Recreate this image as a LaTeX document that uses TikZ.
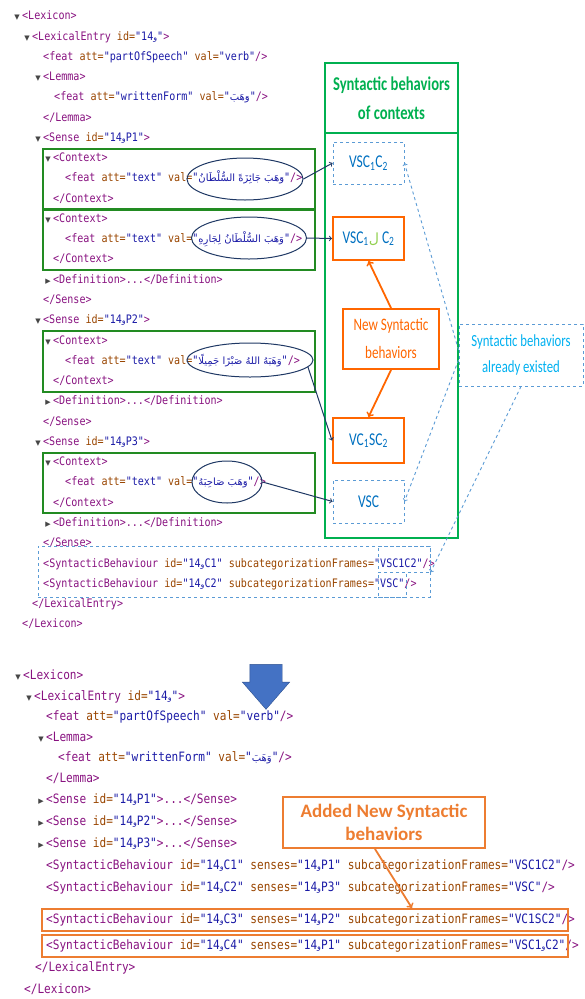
\documentclass[tikz,border=0pt]{standalone}
\usepackage{fontspec}
\setmainfont{Carlito}
\newfontfamily\xmlfont[FakeStretch=0.86]{DejaVu Sans Mono}
\newfontfamily\lblfont[FakeStretch=0.75]{Carlito}
\newfontfamily\arabicfont[Script=Arabic]{DejaVu Sans}
\newfontfamily\symfont{DejaVu Sans}
\TeXXeTstate=1
\usetikzlibrary{shapes, arrows, positioning, fit}

\definecolor{xtagc}{RGB}{136,18,128}
\definecolor{xattc}{RGB}{153,69,0}
\definecolor{xvalc}{RGB}{26,26,166}
\definecolor{trigc}{RGB}{70,70,70}
\definecolor{ctxgreen}{RGB}{34,139,34}
\definecolor{panelgreen}{RGB}{0,176,80}
\definecolor{vscblue}{RGB}{0,112,192}
\definecolor{dashblue}{RGB}{91,155,213}
\definecolor{existblue}{RGB}{0,176,240}
\definecolor{neworange}{RGB}{255,102,0}
\definecolor{addorange}{RGB}{237,125,49}
\definecolor{navy}{RGB}{31,56,100}
\definecolor{lamgreen}{RGB}{146,208,80}
\definecolor{bigblue}{RGB}{68,114,196}
\definecolor{bigblueline}{RGB}{47,82,143}

\newcommand{\xtg}[1]{\textcolor{xtagc}{#1}}
\newcommand{\xat}[1]{\textcolor{xattc}{#1}}
\newcommand{\xvl}[1]{\textcolor{xvalc}{#1}}
\newcommand{\arb}[1]{{\arabicfont\fontsize{10}{10}\selectfont\beginR #1\endR}}
\newcommand{\wid}{{\arabicfont\fontsize{8}{8}\selectfont و}}
\newcommand{\opnd}{\textcolor{trigc}{\symfont\fontsize{7}{7}\selectfont ▼}\hspace{2.5pt}}
\newcommand{\clsd}{\textcolor{trigc}{\symfont\fontsize{7}{7}\selectfont ▶}\hspace{2.5pt}}

\begin{document}
\begin{tikzpicture}[x=1pt, y=-1pt, >=to,
  xml/.style={anchor=west, inner sep=0pt, text height=8pt, text depth=2.5pt, font=\xmlfont\fontsize{11.7}{12}\selectfont},
  xmlb/.style={xml, text height=9pt, font=\xmlfont\fontsize{12.9}{13}\selectfont},
  fold/.style={xshift=-7.9pt},
  ctxbox/.style={draw=ctxgreen, line width=1.1pt, minimum width=272pt},
  ctxell/.style={draw=navy, line width=1pt, ellipse, inner sep=0pt},
  sbbox/.style={draw=vscblue, text=vscblue, inner sep=0pt, minimum width=71pt, font=\lblfont\fontsize{18}{20}\selectfont},
  oldsb/.style={sbbox, draw=dashblue, dashed, line width=0.9pt},
  newsb/.style={sbbox, draw=neworange, line width=2pt},
  dashcon/.style={->, draw=dashblue, dashed, line width=0.9pt},
  ctxcon/.style={->, draw=navy, line width=1pt},
  newcon/.style={->, draw=neworange, line width=1.8pt}]
  \useasboundingbox (0,0) rectangle (585,999);

  % Oberer Lexikon-Eintrag
  \node[xml, fold] (t1) at (22,17) {\opnd\xtg{<Lexicon>}};
  \node[xml, fold] (t2) at (32,37.3) {\opnd\xtg{<LexicalEntry} \xat{id=}\xvl{"14\wid"}\xtg{>}};
  \node[xml] (t3) at (43,57.5) {\xtg{<feat} \xat{att=}\xvl{"partOfSpeech"} \xat{val=}\xvl{"verb"}\xtg{/>}};
  \node[xml, fold] (t4) at (43,77.8) {\opnd\xtg{<Lemma>}};
  \node[xml] (t5) at (54,98.1) {\xtg{<feat} \xat{att=}\xvl{"writtenForm"} \xat{val=}\xvl{"\arb{وَهَبَ}"}\xtg{/>}};
  \node[xml] (t6) at (43,118.4) {\xtg{</Lemma>}};
  \node[xml, fold] (t7) at (43,138.6) {\opnd\xtg{<Sense} \xat{id=}\xvl{"14\wid P1"}\xtg{>}};
  \node[xml, fold] (t8) at (53,158.9) {\opnd\xtg{<Context>}};
  \node[xml] (t9) at (65,179.2) {\xtg{<feat} \xat{att=}\xvl{"text"} \xat{val=}\xvl{"\arb{وَهَبَ جَائِزَةً السُّلْطَانُ}"}\xtg{/>}};
  \node[xml] (t10) at (53,199.4) {\xtg{</Context>}};
  \node[xml, fold] (t11) at (53,219.7) {\opnd\xtg{<Context>}};
  \node[xml] (t12) at (65,240) {\xtg{<feat} \xat{att=}\xvl{"text"} \xat{val=}\xvl{"\arb{وَهَبَ السُّلْطَانُ لِجَارِهِ}"}\xtg{/>}};
  \node[xml] (t13) at (53,260.2) {\xtg{</Context>}};
  \node[xml, fold] (t14) at (53,280.5) {\clsd\xtg{<Definition>...</Definition>}};
  \node[xml] (t15) at (43,300.8) {\xtg{</Sense>}};
  \node[xml, fold] (t16) at (43,321) {\opnd\xtg{<Sense} \xat{id=}\xvl{"14\wid P2"}\xtg{>}};
  \node[xml, fold] (t17) at (53,341.3) {\opnd\xtg{<Context>}};
  \node[xml] (t18) at (65,361.6) {\xtg{<feat} \xat{att=}\xvl{"text"} \xat{val=}\xvl{"\arb{وَهَبَهُ اللهُ صَبْرًا جَمِيلًا}"}\xtg{/>}};
  \node[xml] (t19) at (53,381.9) {\xtg{</Context>}};
  \node[xml, fold] (t20) at (53,402.1) {\clsd\xtg{<Definition>...</Definition>}};
  \node[xml] (t21) at (43,422.4) {\xtg{</Sense>}};
  \node[xml, fold] (t22) at (43,442.7) {\opnd\xtg{<Sense} \xat{id=}\xvl{"14\wid P3"}\xtg{>}};
  \node[xml, fold] (t23) at (53,462.9) {\opnd\xtg{<Context>}};
  \node[xml] (t24) at (65,483.2) {\xtg{<feat} \xat{att=}\xvl{"text"} \xat{val=}\xvl{"\arb{وَهَبَ صَاحِبَهُ}"}\xtg{/>}};
  \node[xml] (t25) at (53,503.5) {\xtg{</Context>}};
  \node[xml, fold] (t26) at (53,523.7) {\clsd\xtg{<Definition>...</Definition>}};
  \node[xml] (t27) at (43,544) {\xtg{</Sense>}};
  \node[xml] (t28) at (43,564.3) {\xtg{<SyntacticBehaviour} \xat{id=}\xvl{"14\wid C1"} \xat{subcategorizationFrames=}\xvl{"VSC1C2"}\xtg{/>}};
  \node[xml] (t29) at (43,584.6) {\xtg{<SyntacticBehaviour} \xat{id=}\xvl{"14\wid C2"} \xat{subcategorizationFrames=}\xvl{"VSC"}\xtg{/>}};
  \node[xml] (t30) at (32,604.8) {\xtg{</LexicalEntry>}};
  \node[xml] (t31) at (22,625.1) {\xtg{</Lexicon>}};

  % Kontexte
  \node[ctxbox, minimum height=60pt] (cx1) at (179,179) {};
  \node[ctxbox, minimum height=60pt] (cx2) at (179,240) {};
  \node[ctxbox, minimum height=61pt] (cx3) at (179,361.5) {};
  \node[ctxbox, minimum height=60pt] (cx4) at (179,483) {};
  \node[ctxell, minimum width=116pt, minimum height=42pt] (e1) at (245,179) {};
  \node[ctxell, minimum width=115pt, minimum height=42pt] (e2) at (249,238) {};
  \node[ctxell, minimum width=126pt, minimum height=34pt] (e3) at (250,360) {};
  \node[ctxell, minimum width=70pt, minimum height=42pt] (e4) at (227,482) {};

  % Syntaktische Verhalten
  \node[draw=panelgreen, line width=2.5pt, minimum width=133pt, minimum height=475pt] (panel) at (391.5,300.5) {};
  \node[draw=panelgreen, line width=2.5pt, minimum width=133pt, minimum height=70pt, anchor=north, text=panelgreen, align=center, font=\lblfont\bfseries\fontsize{19.5}{29}\selectfont] (head) at (panel.north) {Syntactic behaviors\\of contexts};
  \node[oldsb, minimum height=42pt] (vsc1) at (368.5,163) {VSC\textsubscript{1}C\textsubscript{2}};
  \node[newsb, minimum height=43pt] (vsc2) at (368.5,238.5) {VSC\textsubscript{1}{\arabicfont\fontsize{14}{14}\selectfont\color{lamgreen}ل} C\textsubscript{2}};
  \node[draw=neworange, line width=2pt, text=neworange, align=center, minimum width=96pt, minimum height=60pt, font=\lblfont\fontsize{17.5}{28}\selectfont] (newb) at (391,339) {New Syntactic\\behaviors};
  \node[newsb, minimum height=45pt] (vc1) at (368.5,440.5) {VC\textsubscript{1}SC\textsubscript{2}};
  \node[oldsb, minimum height=43pt] (vsc) at (368.5,501.5) {VSC};
  \node[draw=dashblue, dashed, line width=0.9pt, text=existblue, align=center, minimum width=124pt, minimum height=62pt, font=\lblfont\fontsize{17}{26}\selectfont] (exist) at (521,355) {Syntactic behaviors\\already existed};

  % vorhandene Verhalten im Eintrag
  \node[draw=dashblue, dashed, line width=0.9pt, minimum width=392pt, minimum height=51pt] (sbold) at (234,571.5) {};
  \node[draw=dashblue, dashed, line width=0.9pt, minimum width=52pt, minimum height=26pt] (frm1) at (404,559) {};
  \node[draw=dashblue, dashed, line width=0.9pt, minimum width=28pt, minimum height=25pt] (frm2) at (392,584.5) {};

  % Verbindungen
  \draw[ctxcon] (e1.east) -- (vsc1.west);
  \draw[ctxcon] (e2.east) -- (vsc2.west);
  \draw[ctxcon] (e3.-7) -- (vc1.west);
  \draw[ctxcon] (e4.east) -- (vsc.west);
  \draw[newcon] (newb.north) -- (vsc2.south);
  \draw[newcon] (newb.south) -- (vc1.north);
  \draw[dashcon] ([yshift=5pt]exist.west) -- (vsc1.east);
  \draw[dashcon] ([yshift=-5pt]exist.west) -- (vsc.east);
  \draw[dashcon] (exist.south) -- (frm1.south east);

  % Pfeil nach unten
  \node[single arrow, rotate=-90, draw=bigblueline, fill=bigblue, minimum height=45pt, inner xsep=0pt, inner ysep=16pt, single arrow head extend=7.5pt, single arrow tip angle=82] (down) at (266,677.5) {};

  % Unterer Lexikon-Eintrag
  \node[xmlb, fold] (b1) at (23,676) {\opnd\xtg{<Lexicon>}};
  \node[xmlb, fold] (b2) at (34,697) {\opnd\xtg{<LexicalEntry} \xat{id=}\xvl{"14\wid"}\xtg{>}};
  \node[xmlb] (b3) at (46,717) {\xtg{<feat} \xat{att=}\xvl{"partOfSpeech"} \xat{val=}\xvl{"verb"}\xtg{/>}};
  \node[xmlb, fold] (b4) at (46,738) {\opnd\xtg{<Lemma>}};
  \node[xmlb] (b5) at (58,758) {\xtg{<feat} \xat{att=}\xvl{"writtenForm"} \xat{val=}\xvl{"\arb{وَهَبَ}"}\xtg{/>}};
  \node[xmlb] (b6) at (46,779) {\xtg{</Lemma>}};
  \node[xmlb, fold] (b7) at (46,800) {\clsd\xtg{<Sense} \xat{id=}\xvl{"14\wid P1"}\xtg{>...</Sense>}};
  \node[xmlb, fold] (b8) at (46,822) {\clsd\xtg{<Sense} \xat{id=}\xvl{"14\wid P2"}\xtg{>...</Sense>}};
  \node[xmlb, fold] (b9) at (46,844) {\clsd\xtg{<Sense} \xat{id=}\xvl{"14\wid P3"}\xtg{>...</Sense>}};
  \node[xmlb] (b10) at (46,866) {\xtg{<SyntacticBehaviour} \xat{id=}\xvl{"14\wid C1"} \xat{senses=}\xvl{"14\wid P1"} \xat{subcategorizationFrames=}\xvl{"VSC1C2"}\xtg{/>}};
  \node[xmlb] (b11) at (46,888) {\xtg{<SyntacticBehaviour} \xat{id=}\xvl{"14\wid C2"} \xat{senses=}\xvl{"14\wid P3"} \xat{subcategorizationFrames=}\xvl{"VSC"}\xtg{/>}};
  \node[xmlb] (b12) at (46,920) {\xtg{<SyntacticBehaviour} \xat{id=}\xvl{"14\wid C3"} \xat{senses=}\xvl{"14\wid P2"} \xat{subcategorizationFrames=}\xvl{"VC1SC2"}\xtg{/>}};
  \node[xmlb] (b13) at (46,946) {\xtg{<SyntacticBehaviour} \xat{id=}\xvl{"14\wid C4"} \xat{senses=}\xvl{"14\wid P1"} \xat{subcategorizationFrames=}\xvl{"VSC1\wid C2"}\xtg{/>}};
  \node[xmlb] (b14) at (35,968) {\xtg{</LexicalEntry>}};
  \node[xmlb] (b15) at (24,990) {\xtg{</Lexicon>}};

  % Neue Verhalten
  \node[draw=addorange, line width=1.8pt, minimum width=526pt, minimum height=22pt] (c3box) at (305,920) {};
  \node[draw=addorange, line width=1.8pt, minimum width=526pt, minimum height=22pt] (c4box) at (305,946) {};
  \node[draw=addorange, line width=2pt, text=addorange, align=center, minimum width=202pt, minimum height=51pt, font=\bfseries\fontsize{19}{23}\selectfont] (added) at (384,822.5) {Added New Syntactic\\behaviors};
  \draw[->, draw=addorange, line width=1.8pt] ([xshift=-9pt]added.south) -- ([xshift=107pt]c3box.north);
\end{tikzpicture}
\end{document}
